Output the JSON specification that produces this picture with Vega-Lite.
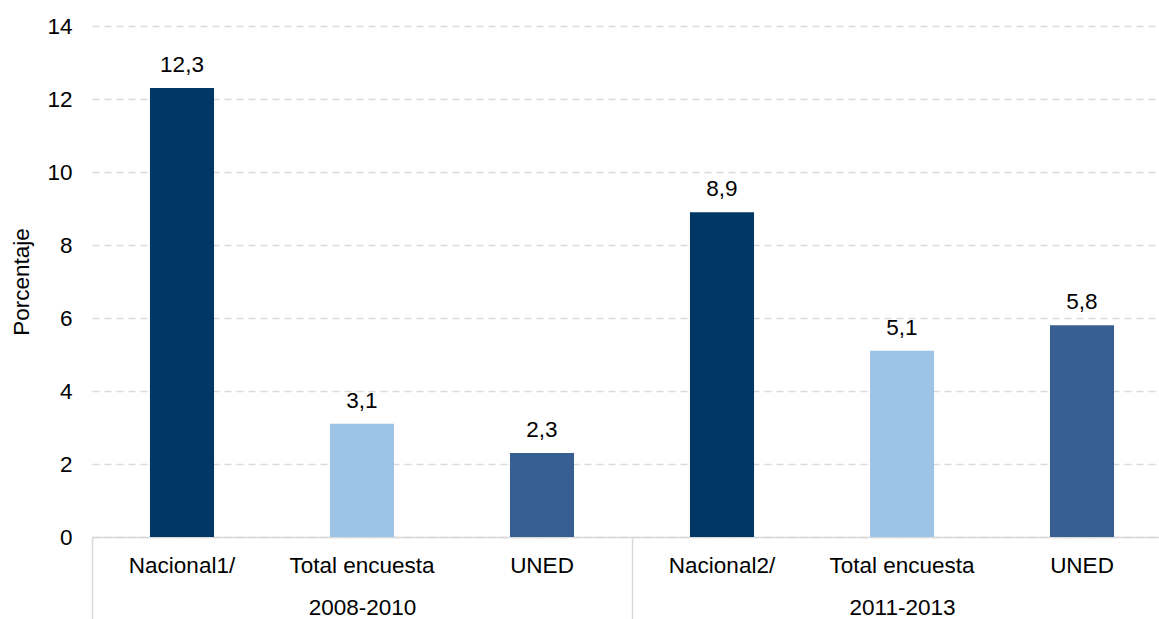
{
  "$schema": "https://vega.github.io/schema/vega-lite/v6.json",
  "width": 1067,
  "height": 511,
  "autosize": {"type": "none"},
  "padding": {"left": 92, "top": 26, "right": 0, "bottom": 82},
  "config": {
    "font": "Liberation Sans",
    "view": {"stroke": null},
    "locale": {"number": {"decimal": ",", "thousands": ".", "grouping": [3], "currency": ["", " €"]}}
  },
  "data": {
    "values": [
      {"clave": "2008-2010|Nacional1/", "grupo": "2008-2010", "serie": "Nacional", "valor": 12.3},
      {"clave": "2008-2010|Total encuesta", "grupo": "2008-2010", "serie": "Total encuesta", "valor": 3.1},
      {"clave": "2008-2010|UNED", "grupo": "2008-2010", "serie": "UNED", "valor": 2.3},
      {"clave": "2011-2013|Nacional2/", "grupo": "2011-2013", "serie": "Nacional", "valor": 8.9},
      {"clave": "2011-2013|Total encuesta", "grupo": "2011-2013", "serie": "Total encuesta", "valor": 5.1},
      {"clave": "2011-2013|UNED", "grupo": "2011-2013", "serie": "UNED", "valor": 5.8}
    ]
  },
  "layer": [
    {
      "layer": [
        {
          "mark": {"type": "bar"},
          "encoding": {
            "x": {
              "field": "clave", "type": "nominal", "sort": null,
              "scale": {"range": [0, 1080], "paddingInner": 0.644, "paddingOuter": 0.322},
              "axis": {
                "orient": "bottom",
                "title": null, "labelAngle": 0, "ticks": false,
                "labelExpr": "split(datum.value, '|')[1]",
                "labelFont": "Liberation Sans", "labelFontSize": 22.5, "labelColor": "#000000",
                "labelPadding": 17, "domainColor": "#d9d9d9", "domainWidth": 1.5
              }
            },
            "y": {
              "field": "valor", "type": "quantitative",
              "scale": {"domain": [0, 14], "nice": false},
              "axis": {
                "title": "Porcentaje", "titleFont": "Liberation Sans", "titleFontSize": 22.5,
                "titleFontWeight": "normal", "titleColor": "#000000", "titlePadding": 13,
                "values": [0, 2, 4, 6, 8, 10, 12, 14], "format": "d",
                "labelFont": "Liberation Sans", "labelFontSize": 22.5, "labelColor": "#000000",
                "labelPadding": 20, "ticks": false, "domain": false,
                "grid": true, "gridColor": "#d9d9d9", "gridDash": [7, 5], "gridWidth": 1.5
              }
            },
            "color": {
              "field": "serie", "type": "nominal", "legend": null,
              "scale": {"domain": ["Nacional", "Total encuesta", "UNED"], "range": ["#003764", "#9dc3e6", "#375f92"]}
            }
          }
        },
        {
          "mark": {"type": "text", "baseline": "bottom", "dy": -11, "fontSize": 22.5, "font": "Liberation Sans", "color": "#000000"},
          "encoding": {
            "x": {"field": "clave", "type": "nominal", "sort": null},
            "y": {"field": "valor", "type": "quantitative"},
            "text": {"field": "valor", "type": "quantitative", "format": ".1f"}
          }
        }
      ]
    },
    {
      "mark": {"type": "point", "opacity": 0},
      "encoding": {
        "x": {
          "field": "grupo", "type": "nominal", "sort": null,
          "scale": {"range": [0, 1080], "paddingInner": 0, "paddingOuter": 0},
          "axis": {
            "orient": "bottom",
            "title": null, "labelAngle": 0, "domain": false,
            "ticks": true, "tickBand": "extent", "tickSize": 90, "tickColor": "#d9d9d9", "tickWidth": 1.5,
            "labelFont": "Liberation Sans", "labelFontSize": 22.5, "labelColor": "#000000",
            "labelPadding": -31
          }
        },
        "y": {"datum": 0, "type": "quantitative"}
      }
    }
  ],
  "resolve": {"scale": {"x": "independent"}, "axis": {"x": "independent"}}
}
